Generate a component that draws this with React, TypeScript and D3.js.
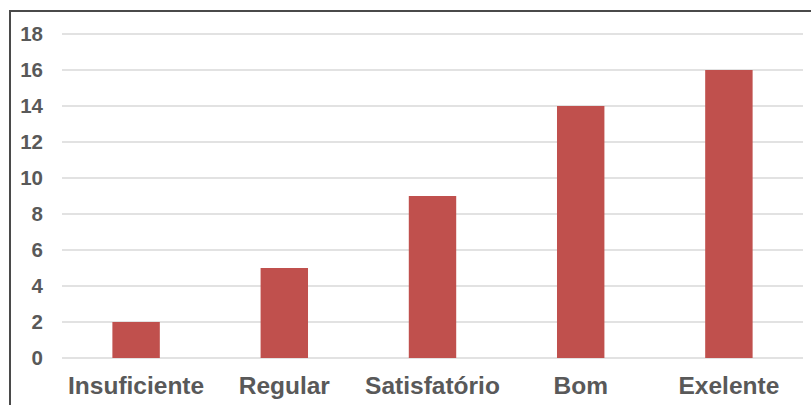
import React from "react";
import * as d3 from "d3";

const categories = ["Insuficiente", "Regular", "Satisfatório", "Bom", "Exelente"];
const values = [2, 5, 9, 14, 16];
const yTicks = [0, 2, 4, 6, 8, 10, 12, 14, 16, 18];

const W = 811;
const H = 405;
const plot = { left: 62, right: 803, top: 34, bottom: 358 };

export default function App() {
  const x = d3
    .scaleBand<string>()
    .domain(categories)
    .range([plot.left, plot.right])
    .paddingInner(0.68)
    .paddingOuter(0.34);
  const y = d3.scaleLinear().domain([0, 18]).range([plot.bottom, plot.top]);

  return (
    <svg
      width={W}
      height={H}
      style={{ position: "absolute", left: 0, top: 0, display: "block", background: "#fff" }}
      fontFamily="'Liberation Sans', Arial, sans-serif"
    >
      {/* frame */}
      <line x1={10} y1={11} x2={W} y2={11} stroke="#4a4a4a" strokeWidth={2} />
      <line x1={10} y1={10} x2={10} y2={H} stroke="#4a4a4a" strokeWidth={2} />

      {/* gridlines and y labels */}
      {yTicks.map((t) => (
        <g key={t}>
          <line
            x1={plot.left}
            x2={plot.right}
            y1={y(t)}
            y2={y(t)}
            stroke="#d9d9d9"
            strokeWidth={1.5}
          />
          <text
            x={43}
            y={y(t)}
            dy="0.36em"
            textAnchor="end"
            fontSize={20.5}
            fontWeight="bold"
            fill="#595959"
          >
            {t}
          </text>
        </g>
      ))}

      {/* bars */}
      {categories.map((c, i) => (
        <rect
          key={c}
          x={x(c)}
          y={y(values[i])}
          width={x.bandwidth()}
          height={y(0) - y(values[i])}
          fill="#c0504d"
        />
      ))}

      {/* category labels */}
      {categories.map((c) => (
        <text
          key={c}
          x={(x(c) ?? 0) + x.bandwidth() / 2}
          y={394}
          textAnchor="middle"
          fontSize={24.5}
          fontWeight="bold"
          fill="#595959"
        >
          {c}
        </text>
      ))}
    </svg>
  );
}
